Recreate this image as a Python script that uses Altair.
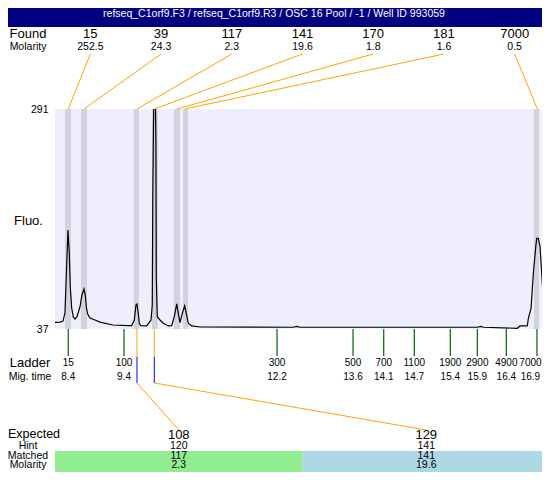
import altair as alt
import pandas as pd

TITLE = "refseq_C1orf9.F3 / refseq_C1orf9.R3 / OSC 16 Pool / -1 / Well ID 993059"

# electropherogram trace (migration time, fluorescence)
trace_time = [8.150, 8.241, 8.296, 8.332, 8.360, 8.387, 8.411, 8.429, 8.454, 8.484,
              8.515, 8.551, 8.606, 8.642, 8.679, 8.703, 8.721, 8.746, 8.788, 8.880,
              8.971, 9.208, 9.482, 9.549, 9.597, 9.628, 9.646, 9.670, 9.688, 9.714,
              9.823, 9.902, 9.925, 9.934, 9.947, 9.960, 9.978, 9.991, 9.998, 10.016,
              10.066, 10.126, 10.217, 10.279, 10.327, 10.371, 10.400, 10.431, 10.473, 10.516,
              10.546, 10.582, 10.644, 10.796, 12.50, 12.56, 12.62, 15.86, 15.918, 15.97,
              16.586, 16.635, 16.768, 16.787, 16.836, 16.878, 16.922, 16.940, 16.969, 17.000,
              17.031, 17.068, 17.104, 17.141, 17.182]
trace_fluo = [44.7, 45.0, 46.2, 55.5, 105.1, 151.3, 124.7, 85.5, 61.2, 50.9,
              48.5, 51.2, 62.7, 76.3, 83.2, 76.3, 62.7, 54.3, 49.7, 47.4,
              45.0, 41.6, 40.8, 40.8, 47.4, 64.7, 65.9, 55.1, 43.6, 40.8,
              40.5, 47.4, 64.7, 185.9, 272.5, 320.0, 320.0, 255.2, 97.0, 51.2,
              47.4, 43.6, 40.5, 40.8, 51.2, 65.9, 55.1, 44.3, 55.1, 63.9,
              55.1, 43.6, 40.5, 39.3, 39.0, 40.1, 39.0, 39.0, 40.1, 39.0,
              37.8, 40.5, 40.5, 49.4, 60.9, 101.3, 132.0, 141.7, 141.7, 132.0,
              101.3, 60.9, 47.4, 42.8, 44.3]

# found peaks
found_size = [15, 39, 117, 141, 170, 181, 7000]
found_molarity = [252.5, 24.3, 2.3, 19.6, 1.8, 1.6, 0.5]
found_time = [8.392, 8.679, 9.646, 9.962, 10.371, 10.516, 16.951]
band_start = [8.332, 8.624, 9.591, 9.920, 10.321, 10.485, 16.890]
band_end = [8.442, 8.734, 9.683, 10.024, 10.431, 10.577, 16.982]

# ladder
ladder_size = [15, 100, 300, 500, 700, 1100, 1900, 2900, 4900, 7000]
ladder_time = [8.392, 9.409, 12.201, 13.588, 14.148, 14.706, 15.363, 15.856, 16.385, 16.944]

# expected / matched table
expected = [108, 129]
hint = [120, 141]
matched = [117, 141]
matched_molarity = [2.3, 19.6]

T_MIN, T_MAX = 8.150, 17.182
Y_MIN, Y_MAX = 37, 291

# ---- layout (pixels) ----
W_FULL, W, H = 495, 487, 220
LEFT_X = -27
FONT = "Liberation Sans"

n_found = len(found_size)
step_f = (T_MAX - T_MIN) / n_found
found_df = pd.DataFrame({
    "size": found_size,
    "molarity": found_molarity,
    "peak_t": found_time,
    "b0": band_start,
    "b1": band_end,
    "slot_t": [T_MIN + (i + 0.5) * step_f for i in range(n_found)],
})

trace_df = pd.DataFrame({"t": trace_time, "fluo": trace_fluo})
ladder_df = pd.DataFrame({
    "size": ladder_size,
    "t": ladder_time,
    "last": [i == len(ladder_size) - 1 for i in range(len(ladder_size))],
})

n_col = len(expected)
step_c = (T_MAX - T_MIN) / n_col
peak_lookup = dict(zip(found_size, found_time))
table_df = pd.DataFrame({
    "col": list(range(n_col)),
    "expected": expected,
    "hint": hint,
    "matched": matched,
    "mol": matched_molarity,
    "peak_t": [peak_lookup[m] for m in matched],
    "c0": [T_MIN + i * step_c for i in range(n_col)],
    "c1": [T_MIN + (i + 1) * step_c for i in range(n_col)],
    "cc": [T_MIN + (i + 0.5) * step_c for i in range(n_col)],
})

xs = alt.Scale(domain=[T_MIN, T_MAX], range=[0, W_FULL], nice=False, zero=False)


def X(f):
    return alt.X(f, type="quantitative", scale=xs, axis=None)


def label(txt, y, size, x=LEFT_X):
    return alt.Chart(pd.DataFrame({"l": [txt]})).mark_text(
        font=FONT, fontSize=size, color="black", align="center", baseline="middle"
    ).encode(x=alt.value(x), y=alt.value(y), text="l:N")


def tbl_text(field, y, size, fmt=None):
    t = alt.Text(field, type="quantitative", format=fmt) if fmt else alt.Text(field, type="nominal")
    return alt.Chart(table_df).mark_text(font=FONT, fontSize=size, color="black",
                                         baseline="middle").encode(
        x=X("cc"), y=alt.value(y), text=t)


def ladder_text(y, text, last):
    return alt.Chart(ladder_df).transform_filter(
        alt.datum.last if last else ~alt.datum.last
    ).mark_text(font=FONT, fontSize=10, color="black", baseline="middle",
                dx=-6.5 if last else 0).encode(x=X("t"), y=alt.value(y), text=text)


bands = alt.Chart(found_df).mark_rect(color="#D3D3E0").encode(
    x=X("b0"), x2="b1", y=alt.value(0), y2=alt.value(H))

trace = alt.Chart(trace_df).mark_line(color="black", strokeWidth=1.2, clip=True).encode(
    x=X("t"),
    y=alt.Y("fluo:Q", scale=alt.Scale(domain=[Y_MIN, Y_MAX], nice=False, zero=False),
            axis=alt.Axis(values=[Y_MIN, Y_MAX], title="Fluo.", titleAngle=0,
                          titleX=LEFT_X, titleY=111, titleAlign="center",
                          titleBaseline="middle", titleFontSize=13, titleFont=FONT,
                          titleFontWeight="normal", titleColor="black",
                          labelFont=FONT, labelFontSize=10.5, labelColor="black",
                          domain=False, ticks=False, tickSize=0, grid=False,
                          labelPadding=7)))

title_bar = alt.Chart(pd.DataFrame({"title": [TITLE]})).mark_rect(color="#000080").encode(
    x=alt.value(-55), x2=alt.value(W_FULL), y=alt.value(-109), y2=alt.value(-82))
title_txt = alt.Chart(pd.DataFrame({"title": [TITLE]})).mark_text(
    font=FONT, fontSize=10.5, color="white", align="center", baseline="middle").encode(
    x=alt.value(219), y=alt.value(-95), text="title:N")

found_txt = alt.Chart(found_df).mark_text(font=FONT, fontSize=13, color="black",
                                          baseline="middle").encode(
    x=X("slot_t"), y=alt.value(-75), text="size:N")
found_mol = alt.Chart(found_df).mark_text(font=FONT, fontSize=10.5, color="black",
                                          baseline="middle").encode(
    x=X("slot_t"), y=alt.value(-62), text=alt.Text("molarity:Q", format=".1f"))
found_lines = alt.Chart(found_df).mark_rule(color="orange", strokeWidth=1).encode(
    x=X("slot_t"), x2="peak_t", y=alt.value(-55), y2=alt.value(0))

ladder_ticks = alt.Chart(ladder_df).mark_rule(color="#006400", strokeWidth=1.2).encode(
    x=X("t"), y=alt.value(H), y2=alt.value(H + 27))
size_text = alt.Text("size", type="nominal")
time_text = alt.Text("t", type="quantitative", format=".1f")

match_v1 = alt.Chart(table_df).mark_rule(color="orange", strokeWidth=1).encode(
    x=X("peak_t"), y=alt.value(H), y2=alt.value(H + 28))
match_v2 = alt.Chart(table_df).mark_rule(color="blue", strokeWidth=1).encode(
    x=X("peak_t"), y=alt.value(H + 28), y2=alt.value(H + 54))
match_diag = alt.Chart(table_df).mark_rule(color="orange", strokeWidth=1).encode(
    x=X("peak_t"), x2="cc", y=alt.value(H + 54), y2=alt.value(321))

table_rect = alt.Chart(table_df).mark_rect().encode(
    x=X("c0"), x2="c1", y=alt.value(342), y2=alt.value(363),
    color=alt.Color("col:O", scale=alt.Scale(range=["#90EE90", "#ADD8E6"]), legend=None))

chart = alt.layer(
    bands, trace, title_bar, title_txt,
    label("Found", -75, 13), label("Molarity", -62, 10.5),
    found_txt, found_mol, found_lines,
    ladder_ticks, label("Ladder", 254, 13, -25), label("Mig. time", 268, 10.5, -25),
    ladder_text(254, size_text, False), ladder_text(254, size_text, True),
    ladder_text(268, time_text, False), ladder_text(268, time_text, True),
    match_v1, match_v2, match_diag,
    table_rect,
    label("Expected", 325, 12.5, -21), label("Hint", 337, 10.5),
    label("Matched", 347, 10.5), label("Molarity", 356, 10.5),
    tbl_text("expected", 326, 13), tbl_text("hint", 337, 10.5),
    tbl_text("matched", 347, 10.5), tbl_text("mol", 356, 10.5, ".1f"),
).properties(
    width=W, height=H,
    padding={"left": 47, "top": 101, "right": 0, "bottom": 143},
    autosize=alt.AutoSizeParams(type="none"),
    background="white",
).configure_view(fill="#EEEEFC", stroke=None)

chart.save("out.html", embed_options={"renderer": "svg", "actions": False})
